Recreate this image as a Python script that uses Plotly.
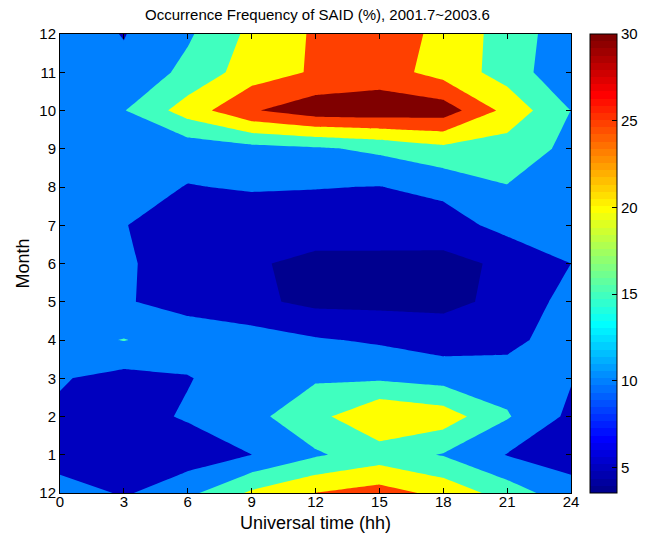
import plotly.graph_objects as go

# Universal time grid (hours) and month rows (Dec at both ends)
hours = [0, 3, 6, 9, 12, 15, 18, 21, 24]
month_pos = list(range(13))
month_labels = ["12", "1", "2", "3", "4", "5", "6", "7", "8", "9", "10", "11", "12"]

# Occurrence frequency (%) per month row, one value per UT bin
dec_lo = [13.2, 9.32, 13.7, 20.86, 25.1, 27.2, 23.5, 17.7, 11.8]
jan = [6.5, 7.0, 7.2, 9.97, 14.4, 17.4, 14.7, 9.8, 8.05]
feb = [9.2, 8.1, 10.53, 13.6, 18.4, 24.8, 22.7, 15.44, 8.9]
mar = [10.4, 8.36, 9.76, 12.3, 14.45, 14.3, 13.1, 13.0, 10.3]
apr = [13.0, 15.2, 12.5, 12.4, 10.5, 9.34, 7.66, 8.1, 13.5]
may = [11.0, 10.35, 8.5, 6.05, 3.8, 3.7, 3.8, 6.2, 12.0]
jun = [11.0, 10.5, 8.2, 5.64, 3.6, 3.6, 3.6, 5.87, 10.0]
jul = [11.0, 10.1, 8.6, 7.3, 7.8, 7.8, 7.68, 11.7, 12.5]
aug = [11.5, 12.0, 9.8, 10.4, 10.15, 9.9, 11.4, 14.8, 13.0]
sep = [12.5, 12.5, 12.0, 13.3, 14.3, 16.0, 18.7, 17.6, 13.9]
octo = [12.8, 14.77, 22.3, 29.5, 33.0, 33.2, 32.7, 23.45, 14.95]
nov = [12.0, 11.0, 16.4, 22.47, 25.58, 27.3, 23.06, 17.96, 10.79]
dec_hi = [12.4, 9.8, 14.29, 21.23, 25.63, 27.0, 24.09, 17.63, 12.18]

freq = [dec_lo, jan, feb, mar, apr, may, jun, jul, aug, sep, octo, nov, dec_hi]

levels = [5, 10, 15, 20, 25, 30]
cbar_ticks = [5, 10, 15, 20, 25, 30]
c_min, c_max = 3.53, 30.0


def jet64(i):
    """Row i (0-based) of the classic 64-entry jet colormap."""
    k = i + 1
    s = 0.0625
    if k <= 8:
        r, g, b = 0.0, 0.0, 0.5 + k * s
    elif k <= 24:
        r, g, b = 0.0, (k - 8) * s, 1.0
    elif k <= 40:
        r, g, b = (k - 24) * s, 1.0, 1.0 - (k - 24) * s
    elif k <= 56:
        r, g, b = 1.0, 1.0 - (k - 40) * s, 0.0
    else:
        r, g, b = 1.0 - (k - 56) * s, 0.0, 0.0
    return "rgb(%d,%d,%d)" % (round(r * 255), round(g * 255), round(b * 255))


def jet_index(v):
    f = (v - c_min) / (c_max - c_min)
    return max(0, min(63, int(f * 64)))


# Filled bands: below the first level uses the lowest colour,
# every other band takes the colour of its lower level.
band_colors = [jet64(0)] + [jet64(jet_index(lv)) for lv in levels]
n_bands = len(band_colors)
contour_scale = [[k / (n_bands - 1), c] for k, c in enumerate(band_colors)]

# Stepped 64-colour scale for the colour bar
bar_scale = []
for i in range(64):
    bar_scale.append([i / 64, jet64(i)])
    bar_scale.append([(i + 1) / 64, jet64(i)])

font_family = "Liberation Sans, Arial, sans-serif"

fig = go.Figure()
fig.add_trace(
    go.Contour(
        x=hours,
        y=month_pos,
        z=freq,
        contours=dict(
            start=levels[0],
            end=levels[-1],
            size=levels[1] - levels[0],
            coloring="fill",
            showlines=False,
        ),
        line=dict(width=0, smoothing=0),
        colorscale=contour_scale,
        showscale=False,
        hoverinfo="skip",
    )
)

# Colour bar carrier
fig.add_trace(
    go.Scatter(
        x=[hours[0], hours[0]],
        y=[month_pos[0], month_pos[0]],
        mode="markers",
        marker=dict(
            size=1,
            opacity=0,
            color=[c_min, c_max],
            cmin=c_min,
            cmax=c_max,
            colorscale=bar_scale,
            showscale=True,
            colorbar=dict(
                x=(594 - 60) / 515,
                xanchor="left",
                xpad=0,
                ypad=0,
                y=0.5,
                yanchor="middle",
                len=1,
                lenmode="fraction",
                thickness=27,
                thicknessmode="pixels",
                outlinewidth=1,
                outlinecolor="black",
                ticks="inside",
                ticklen=5,
                tickcolor="black",
                tickvals=cbar_ticks,
                ticktext=[str(t) for t in cbar_ticks],
                tickfont=dict(family=font_family, size=15, color="black"),
            ),
        ),
        hoverinfo="skip",
        showlegend=False,
    )
)

axis_common = dict(
    showline=True,
    linecolor="black",
    linewidth=1,
    mirror="ticks",
    ticks="inside",
    ticklen=5,
    tickcolor="black",
    showgrid=False,
    zeroline=False,
    tickfont=dict(family=font_family, size=15, color="black"),
)

fig.update_layout(
    width=656,
    height=536,
    margin=dict(l=60, r=81, t=34, b=43),
    paper_bgcolor="white",
    plot_bgcolor="white",
    showlegend=False,
    title=dict(
        text="Occurrence Frequency of SAID (%), 2001.7~2003.6",
        x=(60 + 575) / 2 / 656,
        xanchor="center",
        y=1 - 15 / 536,
        yanchor="middle",
        yref="container",
        font=dict(family=font_family, size=15, color="black"),
    ),
    xaxis=dict(
        range=[hours[0], hours[-1]],
        tickvals=hours,
        ticktext=[str(h) for h in hours],
        ticklabelstandoff=-5,
        **axis_common,
    ),
    yaxis=dict(
        range=[month_pos[0], month_pos[-1]],
        tickvals=month_pos,
        ticktext=month_labels,
        **axis_common,
    ),
    annotations=[
        dict(
            text="Universal time (hh)",
            xref="paper",
            yref="paper",
            x=0.5,
            y=0,
            xanchor="center",
            yanchor="middle",
            yshift=-30,
            showarrow=False,
            font=dict(family=font_family, size=18, color="black"),
        ),
        dict(
            text="Month",
            xref="paper",
            yref="paper",
            x=0,
            y=0.5,
            xanchor="center",
            yanchor="middle",
            xshift=-38,
            textangle=-90,
            showarrow=False,
            font=dict(family=font_family, size=18, color="black"),
        ),
    ],
)

fig.write_html("out.html")
